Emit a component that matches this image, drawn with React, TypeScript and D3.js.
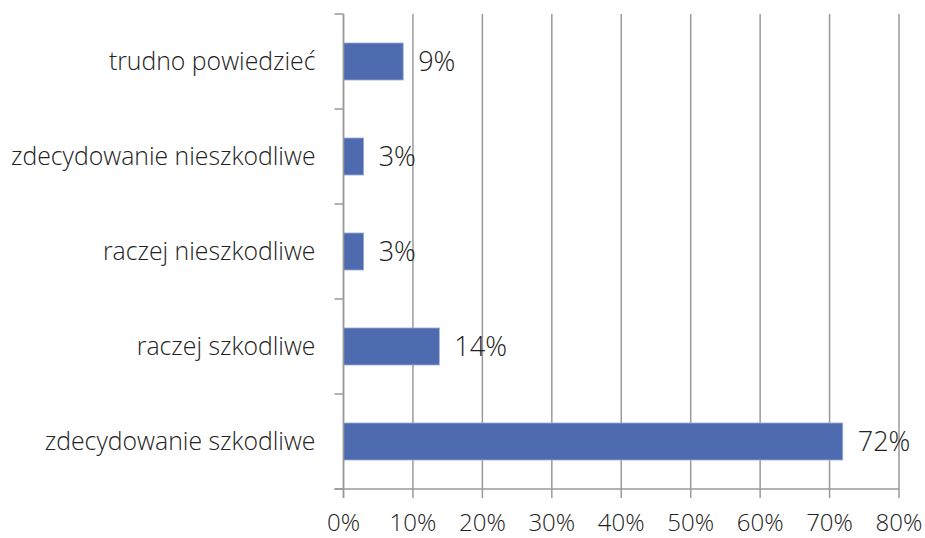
import { useEffect, useRef } from 'react';
import * as d3 from 'd3';

const categories = [
  'trudno powiedzieć',
  'zdecydowanie nieszkodliwe',
  'raczej nieszkodliwe',
  'raczej szkodliwe',
  'zdecydowanie szkodliwe',
];
const values = [8.6, 2.9, 2.9, 13.8, 71.9];
const valueLabels = ['9%', '3%', '3%', '14%', '72%'];
const xTicks = [0, 10, 20, 30, 40, 50, 60, 70, 80];

const FONT = '"Open Sans", "Noto Sans", sans-serif';

export default function App() {
  const svgRef = useRef<SVGSVGElement>(null);

  useEffect(() => {
    if (!svgRef.current) return;
    const svg = d3.select(svgRef.current);
    svg.selectAll('*').remove();

    const margin = { top: 14, right: 26, bottom: 49, left: 343.5 };
    const width = 925;
    const height = 538;

    const x = d3.scaleLinear()
      .domain([0, 80])
      .range([margin.left, width - margin.right]);

    const y = d3.scaleBand()
      .domain(categories)
      .range([margin.top, height - margin.bottom])
      .paddingInner(0.61)
      .paddingOuter(0.305);

    const band = d3.scaleBand()
      .domain(categories)
      .range([margin.top, height - margin.bottom]);

    const g = svg.append('g');
    const gridColor = '#9a9a9a';
    const plotBottom = height - margin.bottom;

    // gridlines + bottom ticks
    g.selectAll('line.grid')
      .data(xTicks)
      .join('line')
      .attr('class', 'grid')
      .attr('x1', d => x(d))
      .attr('x2', d => x(d))
      .attr('y1', margin.top)
      .attr('y2', plotBottom + 9)
      .attr('stroke', gridColor)
      .attr('stroke-width', 1.5);

    // bottom axis line
    g.append('line')
      .attr('x1', margin.left - 9)
      .attr('x2', x(80))
      .attr('y1', plotBottom)
      .attr('y2', plotBottom)
      .attr('stroke', gridColor)
      .attr('stroke-width', 1.5);

    // left axis ticks (category boundaries)
    const bounds = categories.map(c => band(c) || 0).concat([plotBottom]);
    g.selectAll('line.ytick')
      .data(bounds)
      .join('line')
      .attr('class', 'ytick')
      .attr('x1', margin.left - 9)
      .attr('x2', margin.left)
      .attr('y1', d => d)
      .attr('y2', d => d)
      .attr('stroke', gridColor)
      .attr('stroke-width', 1.5);

    // bars
    g.selectAll('rect.bar')
      .data(values)
      .join('rect')
      .attr('class', 'bar')
      .attr('x', x(0))
      .attr('y', (_, i) => y(categories[i]) || 0)
      .attr('width', d => x(d) - x(0))
      .attr('height', y.bandwidth())
      .attr('fill', '#4f6bb0')
      .attr('stroke', '#9fb0d9')
      .attr('stroke-width', 0.8);

    // left axis line
    g.append('line')
      .attr('x1', margin.left)
      .attr('x2', margin.left)
      .attr('y1', margin.top)
      .attr('y2', plotBottom + 9)
      .attr('stroke', gridColor)
      .attr('stroke-width', 1.5);

    // value labels
    g.selectAll('text.val')
      .data(values)
      .join('text')
      .attr('class', 'val')
      .attr('x', d => x(d) + 15)
      .attr('y', (_, i) => (y(categories[i]) || 0) + y.bandwidth() / 2)
      .attr('dy', '0.36em')
      .text((_, i) => valueLabels[i])
      .style('font-family', FONT)
      .style('font-weight', 300)
      .style('font-size', '27px')
      .style('fill', '#222');

    // category labels
    g.selectAll('text.cat')
      .data(categories)
      .join('text')
      .attr('class', 'cat')
      .attr('x', margin.left - 28)
      .attr('y', d => (band(d) || 0) + band.bandwidth() / 2)
      .attr('dy', '0.36em')
      .attr('text-anchor', 'end')
      .text(d => d)
      .style('font-family', FONT)
      .style('font-weight', 300)
      .style('font-size', '24.8px')
      .style('fill', '#222');

    // x tick labels
    g.selectAll('text.xt')
      .data(xTicks)
      .join('text')
      .attr('class', 'xt')
      .attr('x', d => x(d))
      .attr('y', plotBottom + 42)
      .attr('text-anchor', 'middle')
      .text(d => `${d}%`)
      .style('font-family', FONT)
      .style('font-weight', 300)
      .style('font-size', '24px')
      .style('fill', '#222');
  }, []);

  return (
    <svg
      ref={svgRef}
      width={925}
      height={538}
      style={{ position: 'absolute', left: 0, top: 0, background: '#fff' }}
    />
  );
}
